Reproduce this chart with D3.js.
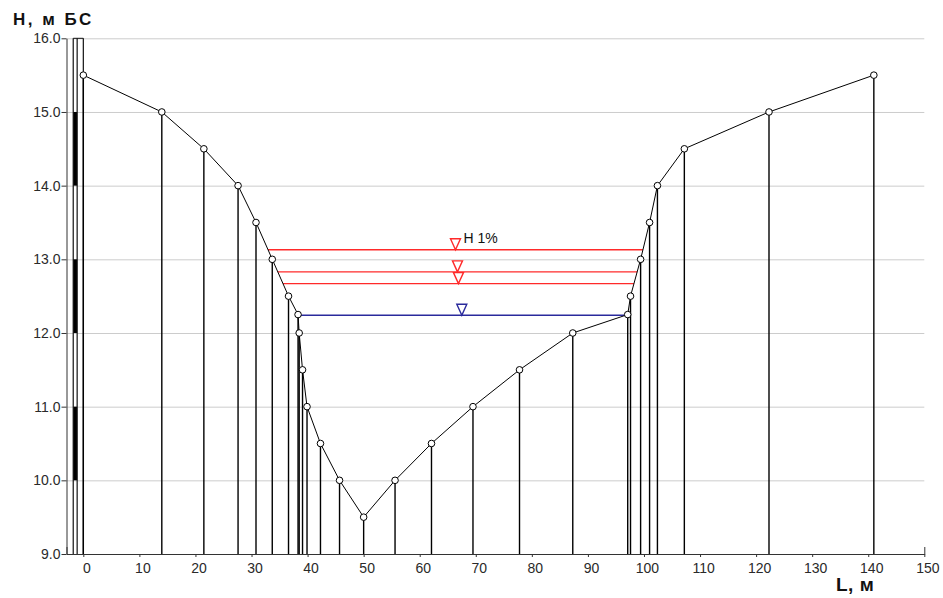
<!DOCTYPE html>
<html>
<head>
<meta charset="utf-8">
<script src="https://cdn.jsdelivr.net/npm/d3@7"></script>
<style>
  body { margin: 0; background: #fff; }
  svg { display: block; font-family: Arial, "Liberation Sans", sans-serif; }
  .axis text { font-size: 14px; fill: #2a2a2a; }
  .axis path, .axis line { stroke: #333; }
</style>
</head>
<body>
<svg width="943" height="598"></svg>
<script>
// cross-section profile: distance L (m) and elevation H (m BS)
const distL = [0, 14.0, 21.5, 27.6, 30.8, 33.7, 36.6, 38.3, 38.5, 39.1, 39.9, 42.3, 45.7, 50.0,
               55.6, 62.1, 69.5, 77.8, 87.3, 97.1, 97.6, 99.4, 101.0, 102.4, 107.2, 122.3, 141.0];
const elevH = [15.5, 15.0, 14.5, 14.0, 13.5, 13.0, 12.5, 12.25, 12.0, 11.5, 11.0, 10.5, 10.0, 9.5,
               10.0, 10.5, 11.0, 11.5, 12.0, 12.25, 12.5, 13.0, 13.5, 14.0, 14.5, 15.0, 15.5];

// water levels
const redLevels = [13.13, 12.83, 12.67];
const blueLevels = [12.24];
const levelLabel = 'Н 1%';

// gauge staff on the left
const staffX = [-1.8, -1.1, 0];
const staffBlack = [[15, 14], [13, 12], [11, 10]];

const xTicks = [0, 10, 20, 30, 40, 50, 60, 70, 80, 90, 100, 110, 120, 130, 140, 150];
const yTicks = [9, 10, 11, 12, 13, 14, 15, 16];

const svg = d3.select('svg');

const x = d3.scaleLinear().domain([-3, 150]).range([66.5, 924.3]);
const y = d3.scaleLinear().domain([9, 16]).range([554, 38.3]);

// grid
svg.append('g')
  .selectAll('line')
  .data(yTicks.filter(d => d > 9))
  .enter()
  .append('line')
  .attr('x1', x(-3))
  .attr('x2', x(150))
  .attr('y1', d => y(d) + 0.5)
  .attr('y2', d => y(d) + 0.5)
  .attr('stroke', '#cccccc');

// staff
const staff = svg.append('g');
staff.selectAll('rect')
  .data(staffBlack)
  .enter()
  .append('rect')
  .attr('x', x(staffX[0]))
  .attr('width', x(staffX[1]) - x(staffX[0]))
  .attr('y', d => y(d[0]))
  .attr('height', d => y(d[1]) - y(d[0]))
  .attr('fill', '#000');
staff.selectAll('line')
  .data(staffX)
  .enter()
  .append('line')
  .attr('x1', d => x(d))
  .attr('x2', d => x(d))
  .attr('y1', y(16))
  .attr('y2', y(9))
  .attr('stroke', '#111')
  .attr('stroke-width', 1.2);
staff.append('line')
  .attr('x1', x(staffX[0]))
  .attr('x2', x(staffX[2]))
  .attr('y1', y(16))
  .attr('y2', y(16))
  .attr('stroke', '#111');

// verticals from each profile point
svg.append('g')
  .selectAll('line')
  .data(distL)
  .enter()
  .append('line')
  .attr('x1', d => x(d))
  .attr('x2', d => x(d))
  .attr('y1', (d, i) => y(elevH[i]))
  .attr('y2', y(9))
  .attr('stroke', '#000')
  .attr('stroke-width', 1.4);

// water edges from the profile
function waterEdges(h) {
  const iMin = d3.minIndex(elevH);
  let i = iMin;
  while (i > 0 && elevH[i - 1] < h) i--;
  const left = distL[i - 1] + (distL[i] - distL[i - 1]) * (elevH[i - 1] - h) / (elevH[i - 1] - elevH[i]);
  let j = iMin;
  while (j < elevH.length - 1 && elevH[j + 1] < h) j++;
  const right = distL[j] + (distL[j + 1] - distL[j]) * (h - elevH[j]) / (elevH[j + 1] - elevH[j]);
  return [left, right];
}

function drawLevels(levels, color) {
  const g = svg.append('g');
  levels.forEach(h => {
    const [a, b] = waterEdges(h);
    const mid = (a + b) / 2;
    g.append('line')
      .attr('x1', x(a)).attr('x2', x(b))
      .attr('y1', y(h)).attr('y2', y(h))
      .attr('stroke', color)
      .attr('stroke-width', 1.4);
    const cx = x(mid), cy = y(h);
    g.append('path')
      .attr('d', `M${cx},${cy}L${cx - 5},${cy - 11}L${cx + 5},${cy - 11}Z`)
      .attr('fill', '#fff')
      .attr('fill-opacity', 0.6)
      .attr('stroke', color)
      .attr('stroke-width', 1.4);
  });
  return g;
}

drawLevels(redLevels, '#ff2a2a');
drawLevels(blueLevels, '#2a2a9c');

const topLevel = d3.max(redLevels);
const topMid = d3.mean(waterEdges(topLevel));
svg.append('text')
  .attr('x', x(topMid) + 8)
  .attr('y', y(topLevel) - 7)
  .attr('font-size', 14)
  .attr('fill', '#111')
  .text(levelLabel);

// profile line
const line = d3.line()
  .x(d => x(d[0]))
  .y(d => y(d[1]));

svg.append('path')
  .datum(distL.map((d, i) => [d, elevH[i]]))
  .attr('d', line)
  .attr('fill', 'none')
  .attr('stroke', '#000')
  .attr('stroke-width', 1);

svg.append('g')
  .selectAll('circle')
  .data(distL)
  .enter()
  .append('circle')
  .attr('cx', d => x(d))
  .attr('cy', (d, i) => y(elevH[i]))
  .attr('r', 3.3)
  .attr('fill', '#fff')
  .attr('stroke', '#000')
  .attr('stroke-width', 1);

// axes
const xAxis = d3.axisBottom(x)
  .tickValues(xTicks)
  .tickSize(3)
  .tickSizeOuter(-7)
  .tickPadding(6);

svg.append('g')
  .attr('class', 'axis')
  .attr('transform', `translate(0,${y(9)})`)
  .call(xAxis)
  .call(g => g.selectAll('text').attr('dx', 3));

const yAxis = d3.axisLeft(y)
  .tickValues(yTicks)
  .tickSize(5)
  .tickSizeOuter(0)
  .tickPadding(1)
  .tickFormat(d3.format('.1f'));

svg.append('g')
  .attr('class', 'axis')
  .attr('transform', `translate(${x(-3)},0)`)
  .call(yAxis);

// axis titles
svg.append('text')
  .attr('x', 13)
  .attr('y', 25)
  .attr('font-size', 17)
  .attr('font-weight', 'bold')
  .attr('letter-spacing', 2.5)
  .attr('fill', '#111')
  .text('Н, м БС');

svg.append('text')
  .attr('x', 836)
  .attr('y', 591)
  .attr('font-size', 19)
  .attr('font-weight', 'bold')
  .attr('letter-spacing', 0.5)
  .attr('fill', '#111')
  .text('L, м');
</script>
</body>
</html>
